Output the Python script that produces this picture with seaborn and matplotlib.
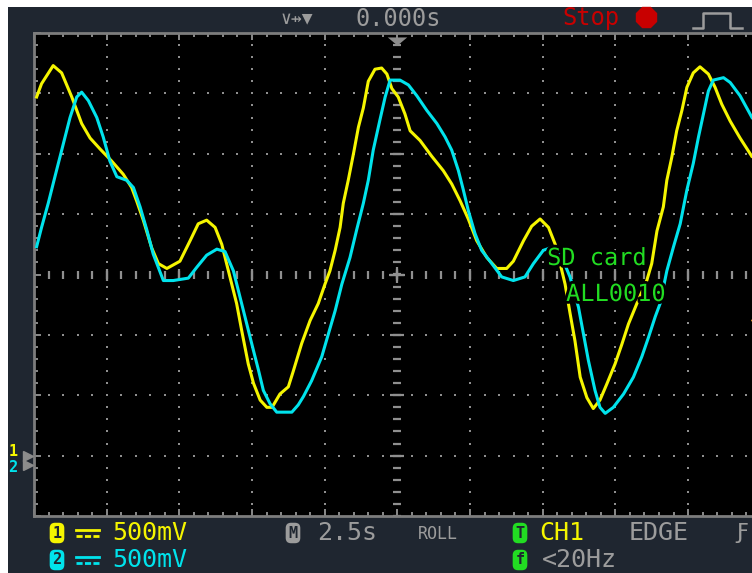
import numpy as np
import pandas as pd
import matplotlib
matplotlib.use("Agg")
import matplotlib.pyplot as plt
import matplotlib.patheffects as pe
import matplotlib.transforms as mtransforms
from matplotlib.lines import Line2D
from matplotlib.patches import Rectangle
from matplotlib.ticker import MultipleLocator
import seaborn as sns

# ---- values (time in s, level in V) ----
ch1_t = [-12.41, -12.24, -11.84, -11.55, -11.20, -10.86, -10.57, -10.23, -9.83, -9.43,
         -9.14, -8.97, -8.74, -8.45, -8.22, -7.93, -7.48, -7.13, -6.85, -6.56,
         -6.27, -6.04, -5.76, -5.53, -5.35, -5.13, -4.95, -4.72, -4.49, -4.31,
         -4.04, -3.75, -3.58, -3.29, -3.00, -2.72, -2.49, -2.32, -2.14, -1.97,
         -1.86, -1.69, -1.51, -1.34, -1.17, -1.00, -0.77, -0.54, -0.36, -0.19,
         0.03, 0.26, 0.44, 0.78, 1.18, 1.58, 1.87, 2.16, 2.44, 2.73,
         3.08, 3.42, 3.76, 3.99, 4.34, 4.62, 4.91, 5.20, 5.43, 5.60,
         5.77, 5.94, 6.11, 6.29, 6.52, 6.74, 6.97, 7.20, 7.49, 7.72,
         7.95, 8.24, 8.58, 8.75, 8.93, 9.15, 9.27, 9.44, 9.61, 9.79,
         9.96, 10.18, 10.41, 10.70, 10.93, 11.16, 11.45, 11.79, 12.19]
ch1_v = [2.97, 3.08, 3.23, 3.17, 2.97, 2.75, 2.63, 2.54, 2.44, 2.33,
         2.22, 2.11, 1.95, 1.72, 1.59, 1.55, 1.61, 1.78, 1.92, 1.95,
         1.89, 1.75, 1.48, 1.26, 1.03, 0.76, 0.60, 0.46, 0.40, 0.40,
         0.51, 0.57, 0.70, 0.93, 1.12, 1.26, 1.42, 1.53, 1.70, 1.89,
         2.09, 2.28, 2.50, 2.72, 2.88, 3.10, 3.20, 3.21, 3.16, 3.04,
         2.97, 2.83, 2.69, 2.61, 2.48, 2.36, 2.25, 2.11, 1.96, 1.78,
         1.64, 1.55, 1.55, 1.61, 1.78, 1.90, 1.96, 1.89, 1.75, 1.59,
         1.42, 1.18, 0.95, 0.65, 0.48, 0.39, 0.46, 0.59, 0.76, 0.92,
         1.09, 1.26, 1.45, 1.59, 1.86, 2.06, 2.28, 2.47, 2.69, 2.86,
         3.05, 3.17, 3.22, 3.16, 3.05, 2.91, 2.77, 2.63, 2.48]

ch2_t = [-12.41, -12.24, -12.01, -11.78, -11.61, -11.43, -11.26, -11.03, -10.86, -10.63,
         -10.34, -10.12, -9.89, -9.65, -9.31, -9.08, -8.85, -8.62, -8.40, -8.05,
         -7.71, -7.19, -6.90, -6.56, -6.21, -5.93, -5.64, -5.41, -5.18, -4.95,
         -4.78, -4.61, -4.38, -4.15, -3.63, -3.41, -3.23, -2.95, -2.60, -2.37,
         -2.14, -1.91, -1.63, -1.40, -1.17, -1.00, -0.83, -0.60, -0.42, -0.25,
         0.09, 0.38, 0.67, 1.01, 1.36, 1.64, 1.87, 2.10, 2.27, 2.44,
         2.67, 2.90, 3.25, 3.59, 3.99, 4.39, 4.68, 5.02, 5.37, 5.66,
         5.94, 6.23, 6.40, 6.57, 6.80, 6.97, 7.15, 7.43, 7.78, 8.12,
         8.41, 8.64, 8.87, 9.04, 9.27, 9.50, 9.73, 9.96, 10.18, 10.36,
         10.53, 10.70, 10.87, 11.22, 11.45, 11.79, 12.20]
ch2_v = [1.81, 1.97, 2.17, 2.39, 2.55, 2.72, 2.88, 3.05, 3.09, 3.02,
         2.88, 2.72, 2.52, 2.39, 2.36, 2.30, 2.14, 1.95, 1.75, 1.53,
         1.53, 1.55, 1.64, 1.74, 1.79, 1.77, 1.61, 1.39, 1.17, 0.95,
         0.79, 0.62, 0.51, 0.44, 0.44, 0.50, 0.57, 0.70, 0.90, 1.09,
         1.28, 1.50, 1.72, 1.95, 2.17, 2.36, 2.61, 2.86, 3.05, 3.19,
         3.19, 3.15, 3.06, 2.94, 2.83, 2.72, 2.61, 2.44, 2.28, 2.11,
         1.92, 1.78, 1.67, 1.56, 1.53, 1.56, 1.67, 1.78, 1.81, 1.72,
         1.56, 1.31, 1.09, 0.87, 0.62, 0.48, 0.43, 0.48, 0.59, 0.73,
         0.90, 1.06, 1.23, 1.34, 1.61, 1.81, 2.00, 2.28, 2.50, 2.72,
         2.91, 3.10, 3.19, 3.21, 3.17, 3.06, 2.88]

# scope settings
volts_per_div = 0.5
sec_per_div = 2.5
ch1_pos = -3.0      # channel ground position, divisions
ch2_pos = -3.16
trig_time = 0.0
trig_level = -0.75  # divisions

# colours
FRAME = "#1f2630"
GRID = "#8f8f8f"
YELLOW = "#f5f500"
CYAN = "#00e3ec"
GREEN = "#22dd22"
GRAY_TXT = "#9c9c9c"
MONO = ["DejaVu Sans Mono", "DejaVu Sans"]

df = pd.concat([
    pd.DataFrame({"t": ch1_t, "div": np.array(ch1_v) / volts_per_div + ch1_pos, "ch": "CH1"}),
    pd.DataFrame({"t": ch2_t, "div": np.array(ch2_v) / volts_per_div + ch2_pos, "ch": "CH2"}),
], ignore_index=True)

W, H = 752, 573
fig = plt.figure(figsize=(W / 100, H / 100), dpi=100, facecolor="white")


def fx(x):
    return x / W


def fy(y):
    return 1 - y / H


# dark instrument frame (white strip left and top like the screenshot)
fig.add_artist(Rectangle((fx(8), 0), 1 - fx(8), fy(7), transform=fig.transFigure,
                         fc=FRAME, ec="none", zorder=0))

ax = fig.add_axes([fx(34), fy(516), (W - 34) / W, (516 - 33) / H])
ax.set_facecolor("black")
ax.set_xlim(-5 * sec_per_div, 12.2)
ax.set_ylim(-4, 4)

# graticule dots
sub_x = np.arange(-5 * sec_per_div, 12.2, sec_per_div / 5)
sub_y = np.arange(-4, 4.001, 0.2)
maj_x = np.arange(-4 * sec_per_div, 12.2, sec_per_div)
maj_y = np.arange(-3, 3.5, 1.0)
for mx in maj_x:
    if abs(mx) > 1e-9:
        ax.scatter(np.full(sub_y.size, mx), sub_y, s=2.6, marker="s", color=GRID, lw=0, zorder=1)
for my in maj_y:
    if abs(my) > 1e-9:
        ax.scatter(sub_x, np.full(sub_x.size, my), s=2.6, marker="s", color=GRID, lw=0, zorder=1)

# centre cross with tick marks
ax.plot(np.zeros(sub_y.size), sub_y, ls="none", marker="_", ms=6, mew=1.6, color=GRID, zorder=1)
ax.plot(np.zeros(maj_y.size), maj_y, ls="none", marker="_", ms=9.5, mew=1.6, color=GRID, zorder=1)
ax.plot(sub_x, np.zeros(sub_x.size), ls="none", marker="|", ms=5.5, mew=1.6, color=GRID, zorder=1)
ax.plot(maj_x, np.zeros(maj_x.size), ls="none", marker="|", ms=8.5, mew=1.6, color=GRID, zorder=1)
ax.plot([trig_time], [0], marker="+", ms=11, mew=1.6, color=GRID, zorder=1)

# traces
sns.lineplot(data=df, x="t", y="div", hue="ch", hue_order=["CH1", "CH2"],
             palette={"CH1": YELLOW, "CH2": CYAN}, estimator=None, sort=False,
             legend=False, lw=2.2, ax=ax, zorder=3)
ax.set_xlabel("")
ax.set_ylabel("")

# border ticks
ax.xaxis.set_major_locator(MultipleLocator(sec_per_div))
ax.xaxis.set_minor_locator(MultipleLocator(sec_per_div / 5))
ax.yaxis.set_major_locator(MultipleLocator(1))
ax.yaxis.set_minor_locator(MultipleLocator(0.2))
ax.tick_params(which="both", direction="in", top=True, right=False, bottom=True, left=True,
               labelbottom=False, labelleft=False, color="#8a8a8a", width=1.4)
ax.tick_params(which="major", length=5)
ax.tick_params(which="minor", length=2.6)
for side in ["left", "top", "bottom"]:
    ax.spines[side].set_color("#7d7d7d")
    ax.spines[side].set_linewidth(2)
ax.spines["right"].set_visible(False)

# trigger position marker at top, trigger level at right edge
tr_top = mtransforms.blended_transform_factory(ax.transData, ax.transAxes)
ax.plot([trig_time], [0.983], transform=tr_top, marker=[(-1.2, 0.5), (1.2, 0.5), (0, -0.5)],
        ms=14, color="#8c8c8c", mec="none", clip_on=False, zorder=5)
tr_side = mtransforms.blended_transform_factory(ax.transAxes, ax.transData)
ax.plot([1.006], [trig_level], transform=tr_side, marker="<", ms=7, color="#f0a030",
        clip_on=False, zorder=5)

# channel ground markers on the left
ax.plot([-0.0085, -0.0085], [ch1_pos, ch2_pos], transform=tr_side, ls="none", marker=">",
        ms=7, color="#8c8c8c", clip_on=False, zorder=5)
ax.text(-0.029, ch1_pos + 0.07, "1", transform=tr_side, color=YELLOW, family=MONO,
        fontsize=11, weight="bold", ha="center", va="center")
ax.text(-0.029, ch2_pos - 0.03, "2", transform=tr_side, color=CYAN, family=MONO,
        fontsize=11, weight="bold", ha="center", va="center")

# storage message on screen
halo = [pe.withStroke(linewidth=4, foreground="black")]
fig.text(fx(597), fy(258), "SD card", color=GREEN, family=MONO, fontsize=17,
         ha="center", va="center", path_effects=halo, zorder=6)
fig.text(fx(616), fy(294), "ALL0010", color=GREEN, family=MONO, fontsize=17,
         ha="center", va="center", path_effects=halo, zorder=6)

# top status bar
fig.text(fx(297), fy(19), "\u2228\u21f8\u25bc", color=GRAY_TXT, family=MONO, fontsize=13,
         ha="center", va="center")
fig.text(fx(398), fy(19), "0.000s", color=GRAY_TXT, family=MONO, fontsize=17,
         ha="center", va="center")
fig.text(fx(591), fy(18), "Stop", color="#c80000", family=MONO, fontsize=17,
         ha="center", va="center")
fig.add_artist(Line2D([fx(646)], [fy(17)], marker="8", ms=15, color="#c80000",
                      transform=fig.transFigure))
fig.add_artist(Line2D([fx(693), fx(703), fx(703), fx(730), fx(730), fx(742)],
                      [fy(28), fy(28), fy(13), fy(13), fy(28), fy(28)],
                      color=GRAY_TXT, lw=1.8, transform=fig.transFigure))


# bottom status bar
def badge(x, y, label, fc):
    fig.text(fx(x), fy(y), label, color=FRAME, family=MONO, fontsize=11, weight="bold",
             ha="center", va="center",
             bbox=dict(boxstyle="round,pad=0.18,rounding_size=0.35", fc=fc, ec="none"))


def dc_symbol(y, color):
    # DC coupling sign (no installed font has the glyph): solid bar over a dashed bar
    fig.add_artist(Line2D([fx(76), fx(99)], [fy(y - 3), fy(y - 3)], color=color, lw=2,
                          transform=fig.transFigure))
    fig.add_artist(Line2D([fx(76), fx(99)], [fy(y + 3), fy(y + 3)], color=color, lw=2,
                          ls=(0, (2.2, 0.85)), transform=fig.transFigure))


badge(57, 533, "1", YELLOW)
badge(57, 560, "2", CYAN)
dc_symbol(533, YELLOW)
dc_symbol(560, CYAN)
fig.text(fx(150), fy(533), "500mV", color=YELLOW, family=MONO, fontsize=18, ha="center", va="center")
fig.text(fx(150), fy(560), "500mV", color=CYAN, family=MONO, fontsize=18, ha="center", va="center")

badge(293, 533, "M", GRAY_TXT)
fig.text(fx(347), fy(533), "2.5s", color=GRAY_TXT, family=MONO, fontsize=18, ha="center", va="center")
fig.text(fx(438), fy(534), "ROLL", color=GRAY_TXT, family=MONO, fontsize=12, ha="center", va="center")

badge(520, 533, "T", GREEN)
badge(520, 560, "f", GREEN)
fig.text(fx(562), fy(533), "CH1", color=YELLOW, family=MONO, fontsize=18, ha="center", va="center")
fig.text(fx(659), fy(533), "EDGE", color=GRAY_TXT, family=MONO, fontsize=18, ha="center", va="center")
fig.text(fx(741), fy(533), "\u0191", color=GRAY_TXT, family=MONO, fontsize=16, ha="center", va="center")
fig.text(fx(579), fy(560), "<20Hz", color=GRAY_TXT, family=MONO, fontsize=18, ha="center", va="center")

fig.savefig("out.png", dpi=100, facecolor=fig.get_facecolor())
